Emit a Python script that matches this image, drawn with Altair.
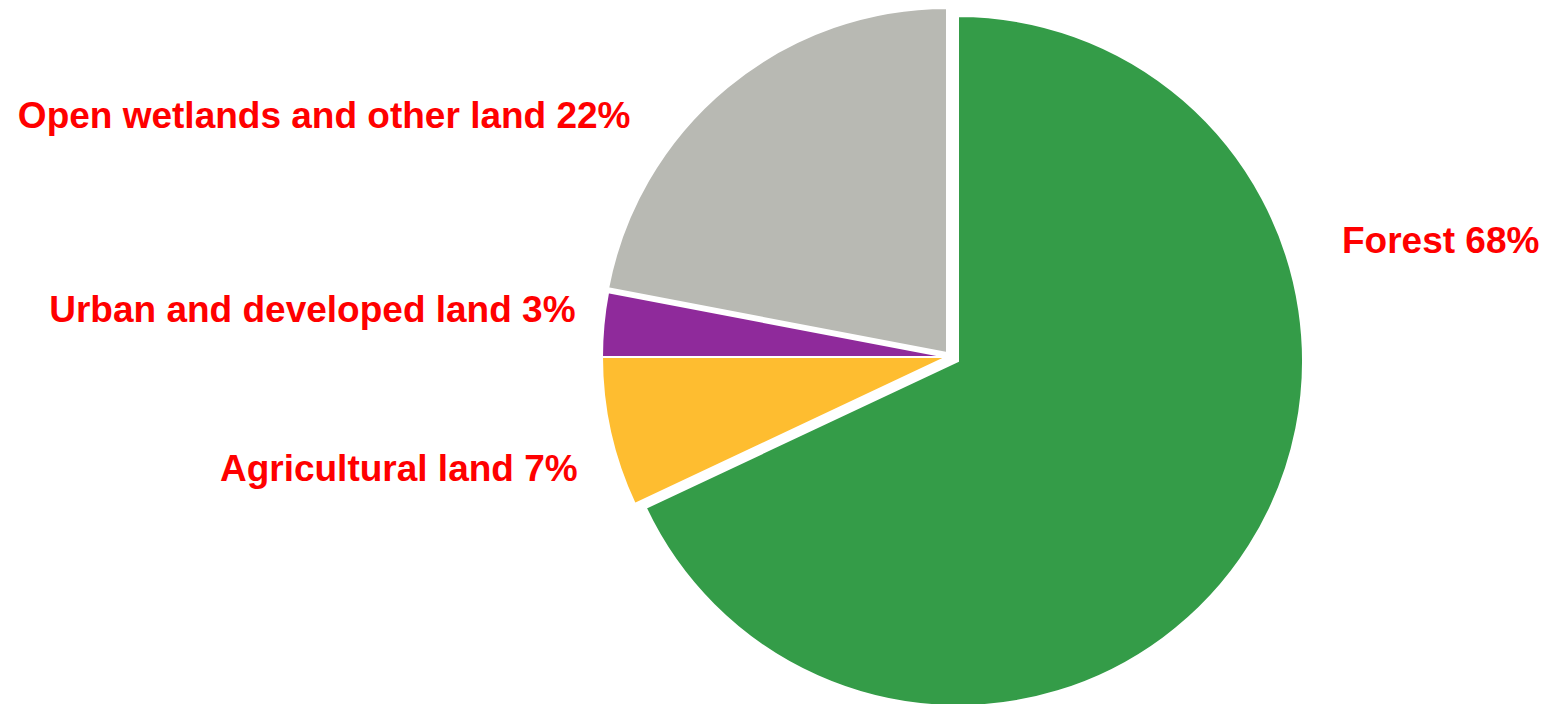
import altair as alt
import pandas as pd

categories = ["Forest", "Agricultural land", "Urban and developed land", "Open wetlands and other land"]
values = [68, 7, 3, 22]
colors = ["#349c48", "#febd30", "#8f2a9b", "#b8b9b3"]
labels = ["Forest 68%", "Agricultural land 7%", "Urban and developed land 3%", "Open wetlands and other land 22%"]

df = pd.DataFrame({
    "category": categories,
    "value": values,
    "order": list(range(len(categories))),
    "label": labels,
})

color_scale = alt.Scale(domain=categories, range=colors)
theta_scale = alt.Scale(domain=[0, 100])

base = alt.Chart(df).transform_window(
    cum="sum(value)", sort=[alt.SortField("order")]
).transform_calculate(
    start="datum.cum - datum.value",
    mid="datum.cum - datum.value / 2",
)

R = 345


def slice_layer(cat, **offs):
    return base.transform_filter(alt.datum.category == cat).mark_arc(
        outerRadius=R, stroke="white", strokeWidth=2, **offs
    ).encode(
        theta=alt.Theta("start:Q", scale=theta_scale),
        theta2="cum:Q",
        color=alt.Color("category:N", scale=color_scale, legend=None),
    )


arcs = [
    slice_layer("Forest", xOffset=11, yOffset=4),
    slice_layer("Agricultural land"),
    slice_layer("Urban and developed land"),
    slice_layer("Open wetlands and other land", yOffset=-4),
]

label_style = {
    "Forest": dict(align="left", dx=91, dy=-308),
    "Agricultural land": dict(align="right", dx=-18, dy=34),
    "Urban and developed land": dict(align="right", dx=-13, dy=-12),
    "Open wetlands and other land": dict(align="right", dx=-87, dy=37),
}

texts = []
for cat in categories:
    st = label_style[cat]
    texts.append(
        base.transform_filter(alt.datum.category == cat).mark_text(
            radius=360, baseline="middle", font="Liberation Sans", fontWeight="bold",
            fontSize=37, color="#ff0000", **st
        ).encode(
            theta=alt.Theta("mid:Q", scale=theta_scale),
            text="label:N",
        )
    )

chart = alt.layer(*arcs, *texts).properties(
    width=694,
    height=694,
    padding={"left": 600, "top": 10, "right": 251, "bottom": 0},
    autosize=alt.AutoSizeParams(type="none"),
).configure_view(stroke=None)

chart.save("out.html", embed_options={"renderer": "svg", "actions": False})
